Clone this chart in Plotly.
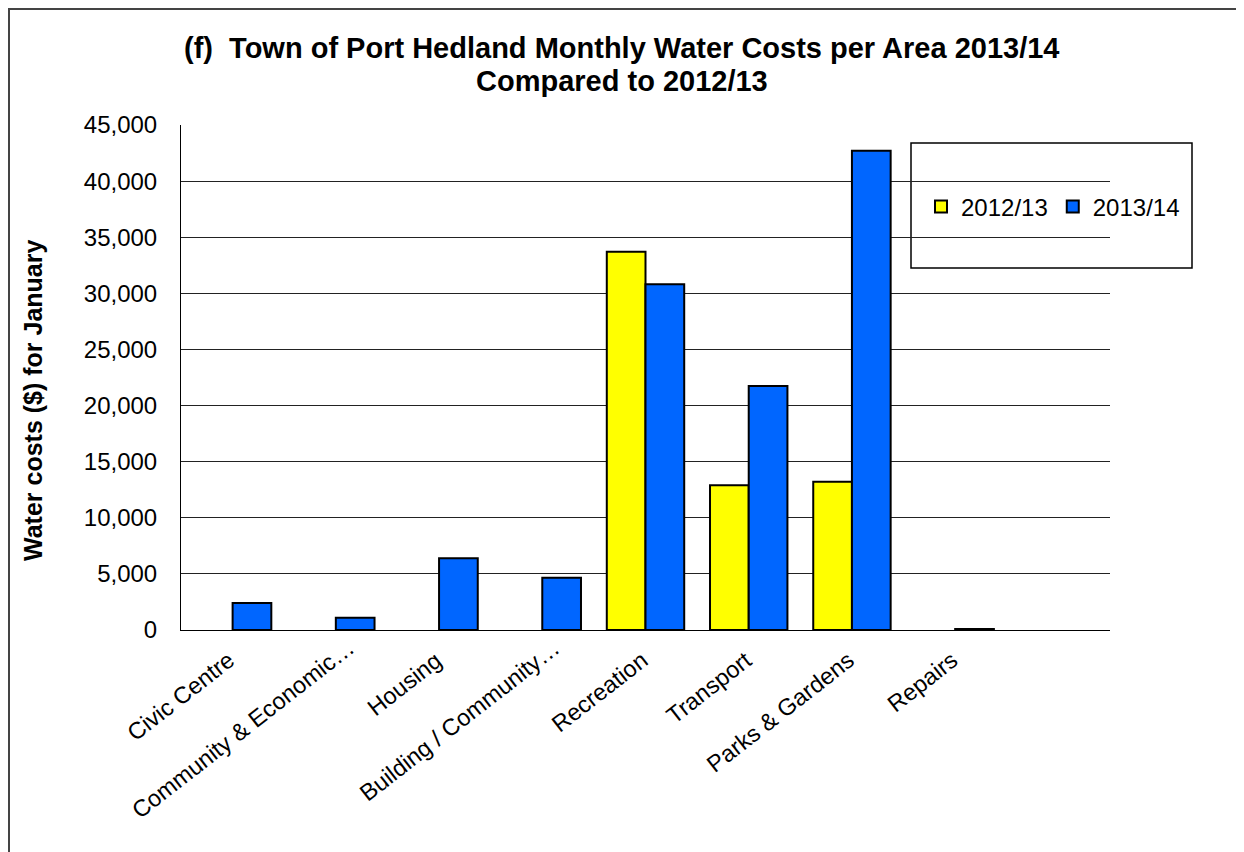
import math
import plotly.graph_objects as go

categories = ["Civic Centre", "Community & Economic…", "Housing", "Building / Community…",
              "Recreation", "Transport", "Parks & Gardens", "Repairs"]
costs_2012_13 = [None, None, None, None, 33700, 12900, 13200, None]
costs_2013_14 = [2400, 1100, 6400, 4650, 30800, 21750, 42700, 100]
y_ticks = [0, 5000, 10000, 15000, 20000, 25000, 30000, 35000, 40000, 45000]

FONT = "Liberation Sans, Arial, sans-serif"

# page geometry (page has an 8px body margin)
OFF = 8
W, H = 1236, 844
L, R, T, B = 181, 1110, 125, 630   # plot area in page pixels
pw, ph = R - L, B - T

def px(x):
    return (x - L) / pw

def py(y):
    return (B - y) / ph

fig = go.Figure()
fig.add_trace(go.Bar(
    name="2012/13", x=categories, y=costs_2012_13,
    marker=dict(color="#FFFF00", line=dict(color="#000000", width=2)),
))
fig.add_trace(go.Bar(
    name="2013/14", x=categories, y=costs_2013_14,
    marker=dict(color="#0066FF", line=dict(color="#000000", width=2)),
))

# rotated category labels (truncated labels keep extra room, as in the original)
ANGLE = 38
annotations = []
for cat in categories:
    extra = 20 if cat.endswith("…") else 0
    annotations.append(dict(
        text=cat, xref="x", yref="paper", x=cat, y=py(644),
        xanchor="right", yanchor="top", showarrow=False, textangle=-ANGLE,
        xshift=10 + extra * math.cos(math.radians(ANGLE)),
        yshift=extra * math.sin(math.radians(ANGLE)),
        font=dict(family=FONT, size=23.5, color="#000000"),
    ))

annotations += [
    dict(text="<b>(f)  Town of Port Hedland Monthly Water Costs per Area 2013/14</b>",
         xref="paper", yref="paper", x=px(622), y=py(48),
         xanchor="center", yanchor="middle", showarrow=False,
         font=dict(family=FONT, size=29, color="#000000")),
    dict(text="<b>Compared to 2012/13</b>",
         xref="paper", yref="paper", x=px(622), y=py(81),
         xanchor="center", yanchor="middle", showarrow=False,
         font=dict(family=FONT, size=29, color="#000000")),
    dict(text="<b>Water costs ($) for January</b>", textangle=-90,
         xref="paper", yref="paper", x=px(33), y=py(401),
         xanchor="center", yanchor="middle", showarrow=False,
         font=dict(family=FONT, size=25, color="#000000")),
]

fig.update_layout(
    width=W, height=H,
    margin=dict(l=L - OFF, r=W - (R - OFF), t=T - OFF, b=H - (B - OFF), pad=0),
    paper_bgcolor="white", plot_bgcolor="white",
    barmode="group", bargap=0.25, bargroupgap=0,
    font=dict(family=FONT, size=24, color="#000000"),
    xaxis=dict(
        type="category", range=[-0.5, 8.5],
        showgrid=False, showticklabels=False,
        showline=True, linecolor="#000000", linewidth=1, ticks="",
    ),
    yaxis=dict(
        range=[0, 45000], tickvals=y_ticks, tickformat=",d",
        showgrid=True, gridcolor="#222222", gridwidth=1,
        showline=True, linecolor="#000000", linewidth=1,
        ticks="", tickfont=dict(size=24), ticklabelstandoff=18,
        zeroline=True, zerolinecolor="#000000", zerolinewidth=1,
    ),
    showlegend=True,
    legend=dict(
        orientation="h", x=px(921), y=py(207), xanchor="left", yanchor="middle",
        bgcolor="rgba(0,0,0,0)", borderwidth=0,
        font=dict(size=24), traceorder="normal",
    ),
    shapes=[
        # legend box
        dict(type="rect", xref="paper", yref="paper",
             x0=px(911), x1=px(1192), y0=py(268), y1=py(143),
             line=dict(color="#000000", width=1.5), fillcolor="white", layer="below"),
        # outer chart border
        dict(type="rect", xref="paper", yref="paper",
             x0=px(9), x1=px(1241), y0=py(880), y1=py(9),
             line=dict(color="#444444", width=2), layer="above"),
    ],
    annotations=annotations,
)

fig.write_html("out.html")
